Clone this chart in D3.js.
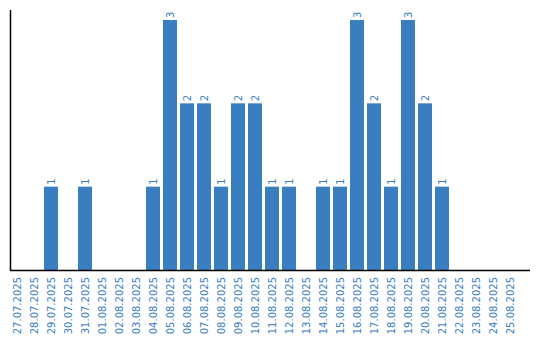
<!DOCTYPE html>
<html>
<head>
<meta charset="utf-8">
<script src="https://cdn.jsdelivr.net/npm/d3@7"></script>
<style>
  body { margin: 0; background: #fff; }
  text { font-family: "DejaVu Sans", sans-serif; font-size: 10px; fill: #3a7ec2; }
</style>
</head>
<body>
<div id="chart"></div>
<script>
// dates shown on the x axis
const days = [
  '27.07.2025', '28.07.2025', '29.07.2025', '30.07.2025', '31.07.2025',
  '01.08.2025', '02.08.2025', '03.08.2025', '04.08.2025', '05.08.2025',
  '06.08.2025', '07.08.2025', '08.08.2025', '09.08.2025', '10.08.2025',
  '11.08.2025', '12.08.2025', '13.08.2025', '14.08.2025', '15.08.2025',
  '16.08.2025', '17.08.2025', '18.08.2025', '19.08.2025', '20.08.2025',
  '21.08.2025', '22.08.2025', '23.08.2025', '24.08.2025', '25.08.2025'
];
// count per day
const counts = [
  0, 0, 1, 0, 1,
  0, 0, 0, 1, 3,
  2, 2, 1, 2, 2,
  1, 1, 0, 1, 1,
  3, 2, 1, 3, 2,
  1, 0, 0, 0, 0
];

const width = 540, height = 340;
const mLeft = 10, mTop = 10, mBottom = 270, mRight = 530;
const color = '#3a7ec2';

const data = days.map((d, i) => ({ day: d, value: counts[i] }));

const svg = d3.select('#chart').append('svg')
    .attr('width', width)
    .attr('height', height);

const x = d3.scaleBand()
    .domain(days)
    .range([mLeft, 517])
    .paddingInner(3 / 17)
    .paddingOuter(0)
    .align(0);

const y = d3.scaleLinear()
    .domain([0, 3])
    .range([mBottom, 20]);

svg.selectAll('rect.bar')
    .data(data.filter(d => d.value > 0))
    .enter().append('rect')
    .attr('class', 'bar')
    .attr('x', d => x(d.day))
    .attr('y', d => y(d.value))
    .attr('width', x.bandwidth())
    .attr('height', d => y(0) - y(d.value))
    .attr('fill', color);

// value labels above bars
svg.selectAll('text.val')
    .data(data.filter(d => d.value > 0))
    .enter().append('text')
    .attr('class', 'val')
    .attr('transform', d => `translate(${x(d.day) + x.bandwidth() / 2},${y(d.value) - 2}) rotate(-90)`)
    .attr('dy', '0.35em')
    .attr('text-anchor', 'start')
    .text(d => d.value);

// date labels
svg.selectAll('text.day')
    .data(days)
    .enter().append('text')
    .attr('class', 'day')
    .attr('transform', d => `translate(${x(d) + x.bandwidth() / 2},277) rotate(-90)`)
    .attr('dy', '0.35em')
    .attr('text-anchor', 'end')
    .text(d => d);

// axis lines
svg.append('line')
    .attr('x1', mLeft + 0.5).attr('x2', mLeft + 0.5)
    .attr('y1', mTop).attr('y2', mBottom + 1)
    .attr('stroke', '#000').attr('stroke-width', 1.5);

svg.append('line')
    .attr('x1', mLeft).attr('x2', mRight)
    .attr('y1', mBottom + 0.5).attr('y2', mBottom + 0.5)
    .attr('stroke', '#000').attr('stroke-width', 1.5);
</script>
</body>
</html>
